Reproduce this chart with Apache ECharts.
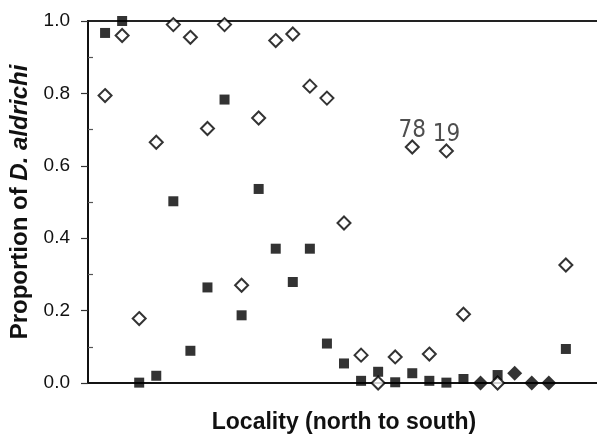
<!DOCTYPE html>
<html>
<head>
<meta charset="utf-8">
<script src="https://cdn.jsdelivr.net/npm/echarts@6/dist/echarts.min.js"></script>
<style>
  html, body { margin: 0; padding: 0; background: #fff; }
  #chart { width: 597px; height: 434px; }
</style>
</head>
<body>
<div id="chart"></div>
<script>
// localities, numbered north to south
var localities = [1,2,3,4,5,6,7,8,9,10,11,12,13,14,15,16,17,18,19,20,21,22,23,24,25,26,27,28];

// filled squares
var squareValues = [0.967, 1.0, 0.001, 0.02, 0.502, 0.089, 0.264, 0.783, 0.187, 0.536,
  0.371, 0.279, 0.371, 0.109, 0.054, 0.006, 0.031, 0.002, 0.027, 0.006,
  0.001, 0.011, null, 0.022, null, null, null, 0.094];

// open diamonds
var diamondValues = [0.794, 0.96, 0.178, 0.665, 0.99, 0.955, 0.703, 0.99, 0.27, 0.732,
  0.946, 0.964, 0.82, 0.787, 0.442, 0.077, 0.0, 0.072, 0.652, 0.08,
  0.641, 0.19, null, 0.0, null, null, null, 0.326];

// both marks on top of each other (drawn as filled diamonds)
var bothValues = [null, null, null, null, null, null, null, null, null, null,
  null, null, null, null, null, null, null, null, null, null,
  null, null, 0.0, null, 0.027, 0.0, 0.0, null];

// sample sizes written above two diamonds
var diamondNotes = ['', '', '', '', '', '', '', '', '', '',
  '', '', '', '', '', '', '', '', '78', '',
  '19', '', '', '', '', '', '', ''];

var yTicks = [0, 0.2, 0.4, 0.6, 0.8, 1.0];
var yMinorTicks = [0.1, 0.3, 0.5, 0.7, 0.9];

function toPoints(values, notes){
	var pts = [];
	for(var i = 0; i < localities.length; i++){
		if(values[i] === null) continue;
		var p = { value: [localities[i], values[i]] };
		if(notes && notes[i] !== ''){
			p.label = { show: true, formatter: notes[i] };
		}
		pts.push(p);
	}
	return pts;
}

var chart = echarts.init(document.getElementById('chart'));
var option = {
	backgroundColor: '#fff',
	animation: false,
	grid: {
		left: 88, right: -3, top: 21, bottom: 51,
		outerBoundsMode: 'none',
		show: true, borderColor: '#222', borderWidth: 2, backgroundColor: 'transparent'
	},
	xAxis: {
		type: 'value',
		min: 0, max: 30,
		name: 'Locality (north to south)',
		nameLocation: 'middle',
		nameGap: 28,
		nameTextStyle: { fontFamily: 'Liberation Sans', fontWeight: 'bold', fontSize: 23, color: '#111' },
		axisLine: { show: true, onZero: false, lineStyle: { color: '#111', width: 1.6 } },
		axisTick: { show: false },
		axisLabel: { show: false },
		splitLine: { show: false }
	},
	yAxis: [
		{
			type: 'value',
			min: 0, max: 1, interval: 0.2,
			name: '{n|Proportion of }{i|D. aldrichi}',
			nameLocation: 'middle',
			nameRotate: 90,
			nameGap: 53,
			nameTextStyle: {
				rich: {
					n: { fontFamily: 'Liberation Sans', fontWeight: 'bold', fontSize: 24, color: '#111' },
					i: { fontFamily: 'Liberation Sans', fontWeight: 'bold', fontStyle: 'italic', fontSize: 24, color: '#111' }
				}
			},
			axisLine: { show: true, onZero: false, lineStyle: { color: '#111', width: 2 } },
			axisTick: { show: true, length: 7, lineStyle: { color: '#333', width: 1.2 } },
			axisLabel: {
				margin: 18,
				fontFamily: 'Liberation Sans', fontSize: 19, color: '#111',
				customValues: yTicks,
				formatter: function(v){ return v.toFixed(1); }
			},
			splitLine: { show: false }
		},
		{
			type: 'value',
			min: 0, max: 1,
			position: 'left',
			axisLine: { show: false },
			axisTick: { show: true, inside: true, length: 5, customValues: yMinorTicks, lineStyle: { color: '#555', width: 1.2 } },
			axisLabel: { show: false },
			splitLine: { show: false }
		}
	],
	series: [
		{
			name: 'squares',
			type: 'scatter',
			clip: false,
			symbol: 'rect',
			symbolSize: 10,
			itemStyle: { color: '#000' },
			data: toPoints(squareValues),
			z: 2
		},
		{
			name: 'diamonds',
			type: 'scatter',
			clip: false,
			symbol: 'diamond',
			symbolSize: 13,
			itemStyle: { color: '#fff', borderColor: '#000', borderWidth: 2 },
			label: {
				show: false,
				position: 'top',
				distance: -3,
				fontFamily: 'DejaVu Sans Condensed, Liberation Sans',
				fontSize: 24,
				color: '#222'
			},
			data: toPoints(diamondValues, diamondNotes),
			z: 3
		},
		{
			name: 'both',
			type: 'scatter',
			clip: false,
			symbol: 'diamond',
			symbolSize: 15,
			itemStyle: { color: '#000' },
			data: toPoints(bothValues),
			z: 4
		}
	]
};
chart.setOption(option);
</script>
</body>
</html>
